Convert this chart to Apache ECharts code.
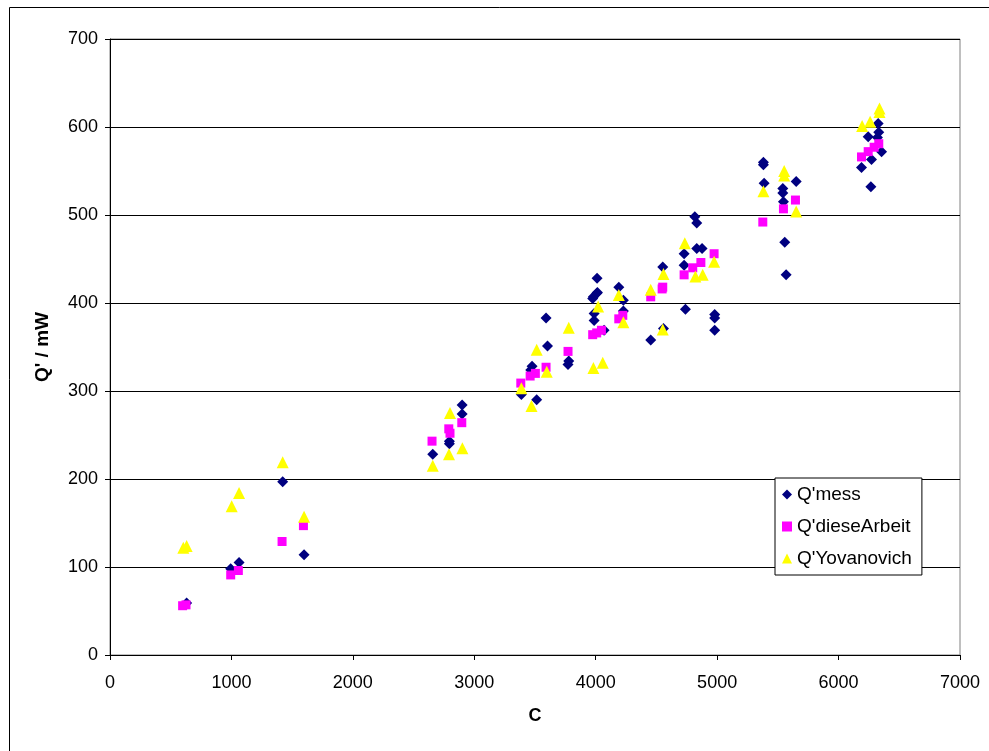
<!DOCTYPE html>
<html>
<head>
<meta charset="utf-8">
<script src="https://cdn.jsdelivr.net/npm/echarts@6/dist/echarts.min.js"></script>
<style>
  html, body { margin: 0; padding: 0; background: #fff; }
  #chart { width: 989px; height: 751px; }
</style>
</head>
<body>
<div id="chart"></div>
<script>
// Measured heat flow Q' [mW] against C
const qMess = [
  [631, 59], [994, 98], [1063, 105], [1422, 197], [1598, 114],
  [2658, 228], [2795, 243], [2795, 240], [2900, 284], [2900, 274],
  [3388, 296], [3514, 290], [3476, 328], [3465, 324], [3603, 351], [3591, 383], [3778, 334], [3772, 330],
  [3981, 407], [4014, 412], [4011, 428], [3987, 388], [3987, 380], [3975, 405], [4069, 369], [4009, 411],
  [4190, 418], [4228, 403], [4228, 391],
  [4453, 358], [4552, 441], [4558, 371], [4739, 393], [4728, 456], [4728, 443],
  [4816, 498], [4832, 491], [4832, 462], [4876, 462],
  [4980, 387], [4980, 383], [4980, 369],
  [5381, 560], [5381, 557], [5387, 536], [5541, 530], [5541, 525], [5546, 515], [5651, 538], [5557, 469], [5568, 432],
  [6326, 604], [6244, 589], [6331, 594], [6354, 572], [6271, 563], [6189, 554], [6266, 532], [6320, 588]
];

// Model of this work
const qDieseArbeit = [
  [598, 56], [626, 57], [994, 91], [1057, 96], [1417, 129], [1593, 147],
  [2652, 243], [2790, 257], [2800, 252], [2897, 264],
  [3383, 309], [3460, 317], [3503, 320], [3591, 327], [3772, 345],
  [3975, 364], [4008, 366], [4047, 369],
  [4190, 382], [4223, 386],
  [4453, 407], [4547, 416], [4552, 418],
  [4728, 432], [4799, 440], [4866, 446], [4975, 456],
  [5376, 492], [5546, 507], [5645, 517],
  [6189, 566], [6244, 572], [6293, 577], [6331, 581]
];

// Yovanovich correlation
const qYovanovich = [
  [604, 122], [631, 124], [1002, 169], [1063, 184], [1422, 219], [1598, 157],
  [2658, 215], [2800, 275], [2792, 228], [2902, 235],
  [3388, 303], [3471, 283], [3514, 347], [3597, 322], [3778, 372],
  [3981, 326], [4058, 332], [4020, 396],
  [4190, 409], [4228, 378],
  [4453, 415], [4558, 433], [4552, 370],
  [4734, 468], [4821, 430], [4881, 432], [4975, 447],
  [5381, 527], [5552, 550], [5552, 545], [5651, 504],
  [6194, 601], [6260, 606], [6337, 621], [6337, 617]
];

const seriesNames = ["Q'mess", "Q'dieseArbeit", "Q'Yovanovich"];
const xTicks = { min: 0, max: 7000, step: 1000 };
const yTicks = { min: 0, max: 700, step: 100 };

const font = '"Liberation Sans", Arial, sans-serif';
const chart = echarts.init(document.getElementById('chart'), null, { renderer: 'canvas' });

chart.setOption({
  animation: false,
  backgroundColor: '#fff',
  graphic: [{
    type: 'rect',
    shape: { x: 9.5, y: 7.5, width: 1000, height: 800 },
    style: { fill: 'none', stroke: '#000', lineWidth: 1 },
    silent: true,
    z: -10
  }],
  grid: {
    left: 110, right: 29, top: 39, bottom: 96,
    show: true, borderColor: '#808080', borderWidth: 1, backgroundColor: 'transparent'
  },
  legend: {
    orient: 'vertical',
    left: 775, top: 478,
    backgroundColor: '#fff',
    borderColor: '#000', borderWidth: 1,
    padding: [7, 10, 7, 7],
    itemGap: 13,
    itemWidth: 10, itemHeight: 10,
    textStyle: { fontFamily: font, fontSize: 19, color: '#000' },
    data: [
      { name: seriesNames[0], icon: 'diamond' },
      { name: seriesNames[1], icon: 'rect' },
      { name: seriesNames[2], icon: 'triangle' }
    ]
  },
  xAxis: {
    type: 'value',
    min: xTicks.min, max: xTicks.max, interval: xTicks.step,
    name: 'C', nameLocation: 'middle', nameGap: 52,
    nameTextStyle: { fontFamily: font, fontSize: 18, fontWeight: 'bold', color: '#000' },
    axisLine: { show: true, onZero: false, lineStyle: { color: '#000', width: 1 } },
    axisTick: { show: true, inside: false, length: 5, lineStyle: { color: '#000' } },
    axisLabel: { fontFamily: font, fontSize: 18, color: '#000', margin: 19, formatter: v => String(v) },
    splitLine: { show: false }
  },
  yAxis: {
    type: 'value',
    min: yTicks.min, max: yTicks.max, interval: yTicks.step,
    name: "Q' / mW", nameLocation: 'middle', nameGap: 58,
    nameTextStyle: { fontFamily: font, fontSize: 19, fontWeight: 'bold', color: '#000' },
    axisLine: { show: true, onZero: false, lineStyle: { color: '#000', width: 1 } },
    axisTick: { show: true, inside: false, length: 5, lineStyle: { color: '#000' } },
    axisLabel: { fontFamily: font, fontSize: 18, color: '#000', margin: 12, formatter: v => String(v) },
    splitLine: { show: true, lineStyle: { color: '#000', width: 1 } }
  },
  series: [
    {
      name: seriesNames[0], type: 'scatter', data: qMess,
      symbol: 'diamond', symbolSize: 11,
      itemStyle: { color: '#000080', opacity: 1 }, z: 2
    },
    {
      name: seriesNames[1], type: 'scatter', data: qDieseArbeit,
      symbol: 'rect', symbolSize: 9,
      itemStyle: { color: '#FF00FF', opacity: 1 }, z: 3
    },
    {
      name: seriesNames[2], type: 'scatter', data: qYovanovich,
      symbol: 'triangle', symbolSize: 12,
      itemStyle: { color: '#FFFF00', opacity: 1 }, z: 4
    }
  ]
});
</script>
</body>
</html>
